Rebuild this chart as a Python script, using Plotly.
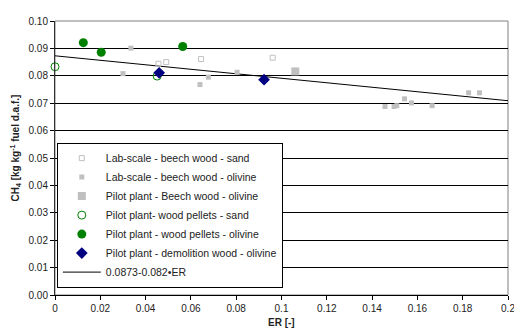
import plotly.graph_objects as go

# ---- data ----
lab_sand_x = [0.0457, 0.0491, 0.0645, 0.0961]
lab_sand_y = [0.0844, 0.0850, 0.0861, 0.0866]

lab_olivine_x = [0.0300, 0.0335, 0.0640, 0.0677, 0.0804, 0.1457, 0.1497, 0.1509,
                 0.1543, 0.1574, 0.1665, 0.1826, 0.1874]
lab_olivine_y = [0.0808, 0.0901, 0.0768, 0.0795, 0.0813, 0.0688, 0.0688, 0.0691,
                 0.0716, 0.0701, 0.0691, 0.0738, 0.0738]

pilot_beech_x = [0.1061]
pilot_beech_y = [0.0816]

pellets_sand_x = [0.0, 0.0451]
pellets_sand_y = [0.0833, 0.0799]

pellets_olivine_x = [0.0125, 0.0204, 0.0564]
pellets_olivine_y = [0.0921, 0.0886, 0.0907]

demolition_x = [0.0460, 0.0923]
demolition_y = [0.0811, 0.0786]

fit_intercept = 0.0873
fit_slope = -0.082
fit_x = [0.0, 0.2]
fit_y = [fit_intercept + fit_slope * v for v in fit_x]

x_tickvals = [0, 0.02, 0.04, 0.06, 0.08, 0.1, 0.12, 0.14, 0.16, 0.18, 0.2]
x_ticktext = ["0", "0.02", "0.04", "0.06", "0.08", "0.1", "0.12", "0.14", "0.16", "0.18", "0.2"]
y_tickvals = [0.0, 0.01, 0.02, 0.03, 0.04, 0.05, 0.06, 0.07, 0.08, 0.09, 0.10]
y_ticktext = ["0.00", "0.01", "0.02", "0.03", "0.04", "0.05", "0.06", "0.07", "0.08", "0.09", "0.10"]

FONT = "Arial, Liberation Sans, sans-serif"
GRAY = "#C0C0C0"
GREEN = "#008000"
NAVY = "#000080"
TXT = "#222222"

fig = go.Figure()

fig.add_trace(go.Scatter(
    x=fit_x, y=fit_y, mode="lines", name="0.0873-0.082•ER",
    line=dict(color="black", width=1), legendrank=7))

fig.add_trace(go.Scatter(
    x=lab_sand_x, y=lab_sand_y, mode="markers", name="Lab-scale - beech wood - sand",
    marker=dict(symbol="square-open", size=5, color=GRAY, line=dict(width=1, color=GRAY)),
    legendrank=1))
fig.add_trace(go.Scatter(
    x=lab_olivine_x, y=lab_olivine_y, mode="markers", name="Lab-scale - beech wood - olivine",
    marker=dict(symbol="square", size=5, color=GRAY, line=dict(width=0)),
    legendrank=2))
fig.add_trace(go.Scatter(
    x=pilot_beech_x, y=pilot_beech_y, mode="markers", name="Pilot plant - Beech wood - olivine",
    marker=dict(symbol="square", size=8, color=GRAY, line=dict(width=0)),
    legendrank=3))
fig.add_trace(go.Scatter(
    x=pellets_sand_x, y=pellets_sand_y, mode="markers", name="Pilot plant- wood pellets - sand",
    marker=dict(symbol="circle-open", size=8, color=GREEN, line=dict(width=1, color=GREEN)),
    legendrank=4, cliponaxis=False))
fig.add_trace(go.Scatter(
    x=pellets_olivine_x, y=pellets_olivine_y, mode="markers", name="Pilot plant - wood pellets - olivine",
    marker=dict(symbol="circle", size=9, color=GREEN, line=dict(width=0)),
    legendrank=5))
fig.add_trace(go.Scatter(
    x=demolition_x, y=demolition_y, mode="markers", name="Pilot plant - demolition wood - olivine",
    marker=dict(symbol="diamond", size=9, color=NAVY, line=dict(width=0)),
    legendrank=6))

# The page body has an 8px default margin, so the figure is sized/margined to compensate.
fig.update_layout(
    width=514, height=321,
    margin=dict(l=47, r=7, t=7, b=34),
    paper_bgcolor="white", plot_bgcolor="white",
    font=dict(family=FONT, size=10, color=TXT),
    showlegend=True,
    legend=dict(
        x=0.004, y=0.027, xanchor="left", yanchor="bottom",
        bgcolor="white", bordercolor="black", borderwidth=1,
        font=dict(family=FONT, size=10.5, color=TXT),
        tracegroupgap=0, itemwidth=38,
        entrywidth=214, entrywidthmode="pixels",
    ),
    xaxis=dict(
        range=[0, 0.2], tickvals=x_tickvals, ticktext=x_ticktext,
        showgrid=False, zeroline=False,
        showline=True, linecolor="black", linewidth=1,
        ticks="outside", ticklen=4, tickcolor="black",
        ticklabeloverflow="allow",
        tickfont=dict(family=FONT, size=10, color=TXT),
    ),
    yaxis=dict(
        range=[0, 0.10], tickvals=y_tickvals, ticktext=y_ticktext,
        showgrid=True, gridcolor="black", gridwidth=1, zeroline=False,
        showline=True, linecolor="#333333", linewidth=1,
        ticks="outside", ticklen=4, tickcolor="black",
        tickfont=dict(family=FONT, size=10, color=TXT),
    ),
    shapes=[dict(type="rect", xref="paper", yref="paper", x0=0, y0=0, x1=1, y1=1,
                 line=dict(color="#808080", width=1), layer="below")],
    annotations=[
        dict(text="<b>CH<sub>4</sub> [kg kg<sup>-1</sup> fuel d.a.f.]</b>",
             xref="paper", yref="paper", x=-0.087, y=0.537, textangle=-90,
             showarrow=False, xanchor="center", yanchor="middle",
             font=dict(family=FONT, size=10, color=TXT)),
        dict(text="<b>ER [-]</b>", xref="paper", yref="paper", x=0.5, y=-0.099,
             showarrow=False, xanchor="center", yanchor="middle",
             font=dict(family=FONT, size=10, color=TXT)),
    ],
)

fig.write_html("out.html")
